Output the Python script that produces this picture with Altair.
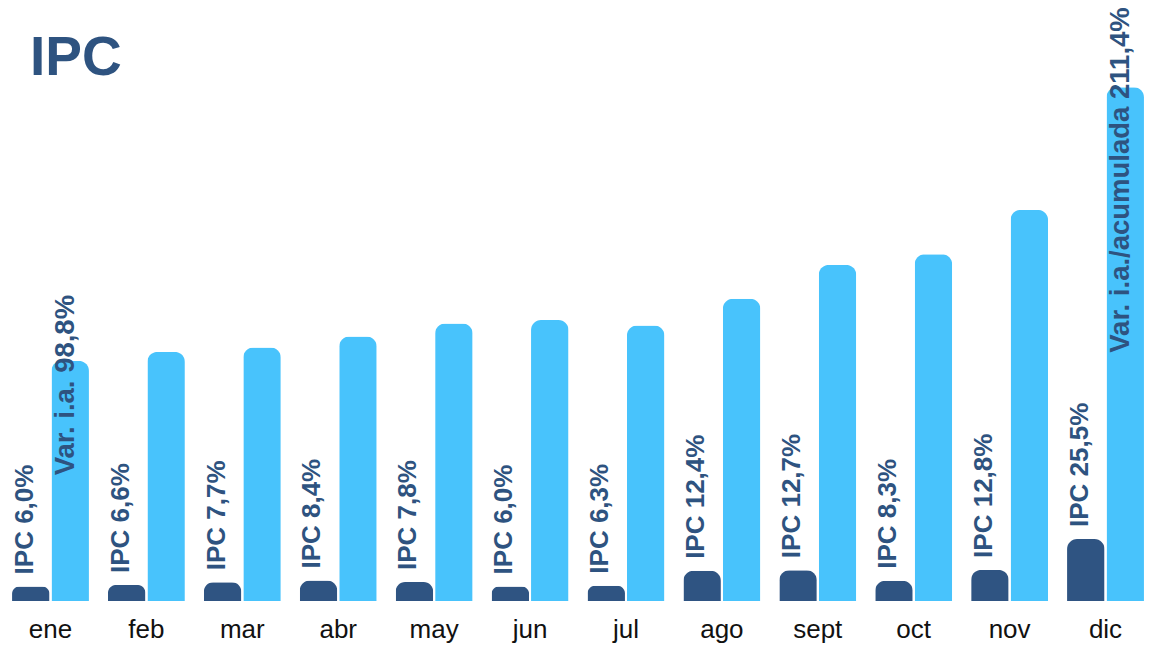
import altair as alt
import pandas as pd

months = ["ene", "feb", "mar", "abr", "may", "jun", "jul", "ago", "sept", "oct", "nov", "dic"]
ipc_mensual = [6.0, 6.6, 7.7, 8.4, 7.8, 6.0, 6.3, 12.4, 12.7, 8.3, 12.8, 25.5]
var_interanual = [98.8, 102.5, 104.3, 108.8, 114.2, 115.6, 113.4, 124.4, 138.3, 142.7, 160.9, 211.4]
series = ["mensual", "interanual"]
var_label_first = "Var. i.a. 98,8%"
var_label_last = "Var. i.a./acumulada 211,4%"
title_text = "IPC"

DARK = "#2F5482"
LIGHT = "#48C3FC"
TEXT = "#2E5380"
FONT = "Liberation Sans"

rows = []
for m, a, b in zip(months, ipc_mensual, var_interanual):
    rows.append({"month": m, "serie": "mensual", "value": a,
                 "label": "IPC " + f"{a:.1f}".replace(".", ",") + "%"})
    rows.append({"month": m, "serie": "interanual", "value": b, "label": ""})
df = pd.DataFrame(rows)
df.loc[(df.month == months[0]) & (df.serie == "interanual"), "label"] = var_label_first
df.loc[(df.month == months[-1]) & (df.serie == "interanual"), "label"] = var_label_last

x = alt.X("month:N", sort=months,
          scale=alt.Scale(paddingInner=0.198, paddingOuter=0.042),
          axis=alt.Axis(title=None, ticks=False, domain=False, labelAngle=0,
                        labelFontSize=26, labelColor="#111111", labelFont=FONT,
                        labelPadding=15, grid=False))
xo = alt.XOffset("serie:N", sort=series,
                 scale=alt.Scale(domain=series, paddingInner=0.05, paddingOuter=0))
y = alt.Y("value:Q", scale=alt.Scale(domain=[0, 244], nice=False, zero=True), axis=None)
color = alt.Color("serie:N", scale=alt.Scale(domain=series, range=[DARK, LIGHT]), legend=None)

base = alt.Chart(df)

bars = base.mark_bar(cornerRadiusTopLeft=10, cornerRadiusTopRight=10).encode(
    x=x, xOffset=xo, y=y, color=color)

ipc_text = base.transform_filter(alt.datum.serie == "mensual").mark_text(
    angle=270, align="left", baseline="middle", dx=12, dy=-6,
    font=FONT, fontSize=26, fontWeight="bold", color=TEXT
).encode(x=x, xOffset=xo, y=y, text="label:N")

var_first = base.transform_filter(
    (alt.datum.serie == "interanual") & (alt.datum.month == months[0])
).mark_text(
    angle=270, align="right", baseline="middle", dx=66, dy=-4,
    font=FONT, fontSize=27.5, fontWeight="bold", color=TEXT
).encode(x=x, xOffset=xo, y=y, text="label:N")

var_last = base.transform_filter(
    (alt.datum.serie == "interanual") & (alt.datum.month == months[-1])
).mark_text(
    angle=270, align="right", baseline="middle", dx=80, dy=-4,
    font=FONT, fontSize=27.5, fontWeight="bold", color=TEXT
).encode(x=x, xOffset=xo, y=y, text="label:N")

title = alt.Chart(pd.DataFrame({"t": [title_text]})).mark_text(
    align="left", baseline="alphabetic", font=FONT, fontSize=55,
    fontWeight="bold", color=TEXT
).encode(x=alt.value(22), y=alt.value(67), text="t:N")

chart = alt.layer(bars, ipc_text, var_first, var_last, title).properties(
    width=1140, height=593,
    autosize=alt.AutoSizeParams(type="none"),
    padding={"left": 0, "top": 0, "right": 0, "bottom": 42},
).configure(background="white").configure_view(stroke=None, strokeWidth=0)

chart.save("out.html", embed_options={"renderer": "svg", "actions": False})
